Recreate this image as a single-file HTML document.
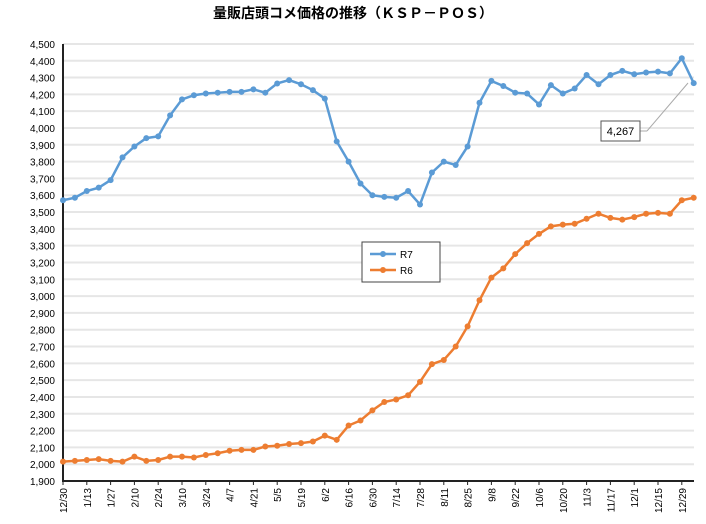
<!DOCTYPE html>
<html><head><meta charset="utf-8"><style>
body{margin:0;background:#fff}
svg{display:block;font-family:"Liberation Sans","Noto Sans CJK JP",sans-serif}
</style></head><body>
<svg id="c" width="706" height="524" xmlns="http://www.w3.org/2000/svg">
<text x="353" y="18" text-anchor="middle" font-size="14" font-weight="bold" font-family="Liberation Sans,Noto Sans CJK JP,sans-serif">量販店頭コメ価格の推移（ＫＳＰ－ＰＯＳ）</text>
<g id="grid"></g>
<g id="ser"></g>
<rect x="362" y="242" width="78" height="40" fill="#fff" stroke="#444" stroke-width="1"/>
<line x1="370" y1="254" x2="396" y2="254" stroke="#5b9bd5" stroke-width="2.5"/><circle cx="383" cy="254" r="3" fill="#5b9bd5"/>
<text x="400" y="258" font-size="10">R7</text>
<line x1="370" y1="270" x2="396" y2="270" stroke="#ed7d31" stroke-width="2.5"/><circle cx="383" cy="270" r="3" fill="#ed7d31"/>
<text x="400" y="274" font-size="10">R6</text>
<line x1="640" y1="131" x2="647" y2="131" stroke="#aaa"/><line x1="647" y1="131" x2="688" y2="83" stroke="#aaa"/>
<rect x="601" y="121" width="39" height="20" fill="#fff" stroke="#555"/>
<text x="620.5" y="135" font-size="11" text-anchor="middle">4,267</text>
</svg>
<script>
const b=[3570,3585,3625,3645,3690,3825,3890,3940,3950,4075,4170,4195,4205,4210,4215,4215,4230,4210,4265,4285,4260,4225,4175,3920,3800,3670,3600,3590,3585,3625,3545,3735,3800,3780,3890,4150,4280,4250,4210,4205,4140,4255,4205,4235,4315,4260,4315,4340,4320,4330,4335,4325,4415,4267];
const o=[2015,2020,2025,2030,2020,2015,2045,2020,2025,2045,2045,2040,2055,2065,2080,2085,2085,2105,2110,2120,2125,2135,2170,2145,2230,2260,2320,2370,2385,2410,2490,2595,2620,2700,2820,2975,3110,3165,3250,3315,3370,3415,3425,3430,3460,3490,3465,3455,3470,3490,3495,3490,3570,3585];
const X=i=>63+i*11.9, Y=v=>481-(v-1900)*0.1681;
const ns="http://www.w3.org/2000/svg";
function el(p,t,a,txt){const e=document.createElementNS(ns,t);for(const k in a)e.setAttribute(k,a[k]);if(txt)e.textContent=txt;p.appendChild(e);return e;}
const g=document.getElementById('grid');
for(let v=1900;v<=4500;v+=100){const y=Y(v);
 if(v>1900)el(g,'line',{x1:63,x2:694,y1:y,y2:y,stroke:'#e6e6e6','stroke-width':2});
 el(g,'text',{x:55,y:y+4,'font-size':10,'text-anchor':'end'},(v/1000|0)+','+String(v%1000).padStart(3,'0'));}
el(g,'line',{x1:63,x2:63,y1:44,y2:482,stroke:'#222','stroke-width':2});
el(g,'line',{x1:62,x2:694,y1:481,y2:481,stroke:'#222','stroke-width':2});
const labs=['12/30','1/13','1/27','2/10','2/24','3/10','3/24','4/7','4/21','5/5','5/19','6/2','6/16','6/30','7/14','7/28','8/11','8/25','9/8','9/22','10/6','10/20','11/3','11/17','12/1','12/15','12/29'];
labs.forEach((l,k)=>{const x=X(k*2);el(g,'line',{x1:x,x2:x,y1:481,y2:485,stroke:'#222'});
 el(g,'text',{x:0,y:0,'font-size':10,'text-anchor':'end',transform:`translate(${x+4},488) rotate(-90)`},l);});
const s=document.getElementById('ser');
[[o,'#ed7d31'],[b,'#5b9bd5']].forEach(([d,c])=>{
 el(s,'polyline',{points:d.map((v,i)=>X(i)+','+Y(v)).join(' '),fill:'none',stroke:c,'stroke-width':2.5});
 d.forEach((v,i)=>el(s,'circle',{cx:X(i),cy:Y(v),r:3,fill:c}));});
</script>
</body></html>
